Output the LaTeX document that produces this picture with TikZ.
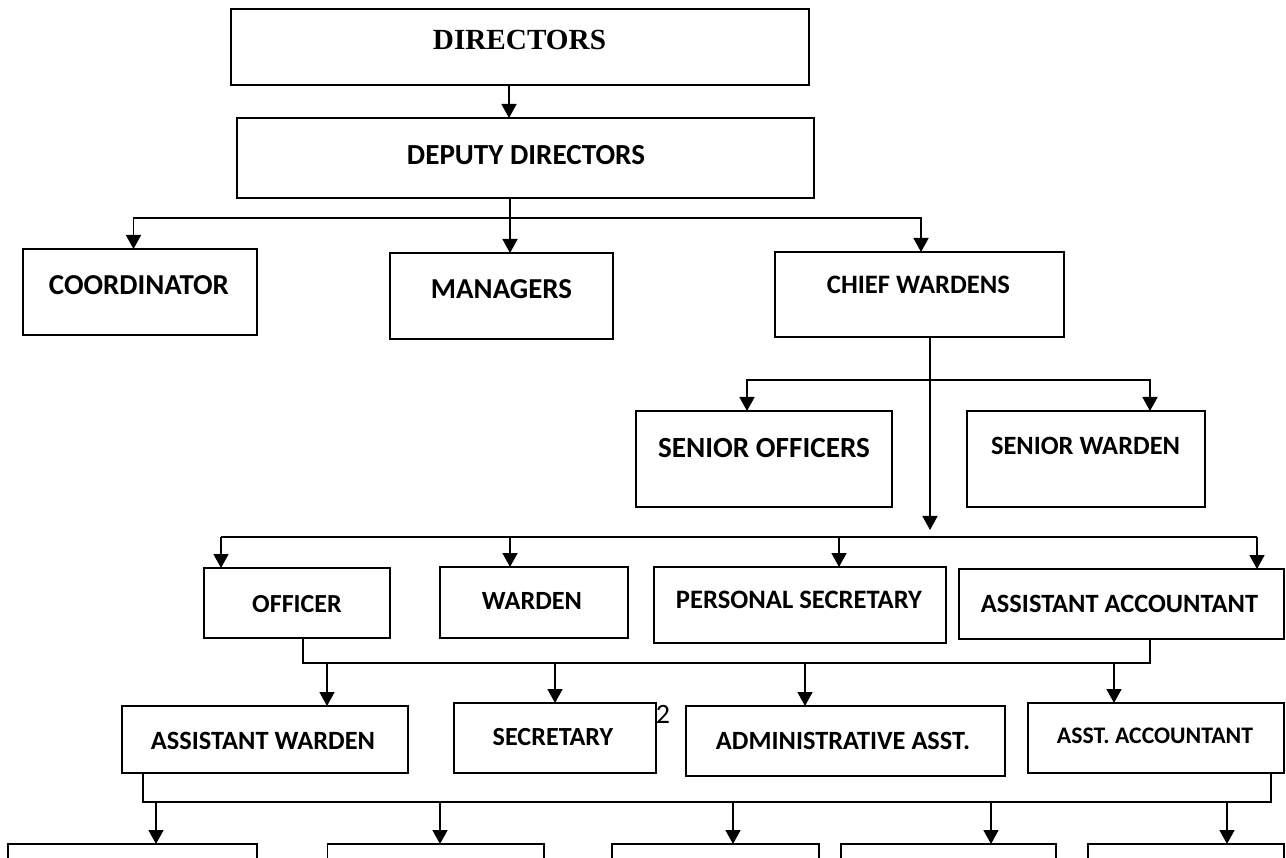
\documentclass[tikz,border=0pt]{standalone}
\usepackage{fontspec}
\setmainfont{Carlito}
\newfontfamily\serifbold{Liberation Serif}
\usepackage{graphicx}
\usetikzlibrary{arrows.meta}
\newcommand\fitw[2]{\resizebox{#1pt}{!}{#2}}
\tikzset{
  orgbox/.style={draw=black, line width=1.5pt, rectangle, inner sep=0pt, outer sep=0pt},
  lbl/.style={inner sep=0pt, outer sep=0pt, font=\bfseries},
  conn/.style={line width=1.6pt, draw=black},
  arr/.style={conn, -{Triangle[width=15pt,length=14pt]}},
}
\begin{document}
\begin{tikzpicture}[x=1pt,y=-1pt]
\path[use as bounding box] (0,0) rectangle (1286,858);
\clip (0,0) rectangle (1286,858);
\fill[white] (0,0) rectangle (1286,858);

% boxes
\node[orgbox, minimum width=578pt, minimum height=76pt] (dir) at (520,47) {};
\node[orgbox, minimum width=577pt, minimum height=80pt] (dep) at (525.5,158) {};
\node[orgbox, minimum width=234pt, minimum height=86pt] (coord) at (140,292) {};
\node[orgbox, minimum width=223pt, minimum height=86pt] (man) at (501.5,296) {};
\node[orgbox, minimum width=289pt, minimum height=85pt] (chief) at (919.5,294.5) {};
\node[orgbox, minimum width=256pt, minimum height=96pt] (so) at (764,459) {};
\node[orgbox, minimum width=238pt, minimum height=96pt] (sw) at (1086,459) {};
\node[orgbox, minimum width=186pt, minimum height=70pt] (off) at (297,603) {};
\node[orgbox, minimum width=188pt, minimum height=71pt] (war) at (534,602.5) {};
\node[orgbox, minimum width=292pt, minimum height=76pt] (ps) at (800,605) {};
\node[orgbox, minimum width=325pt, minimum height=70pt] (aa) at (1121.5,604) {};
\node[orgbox, minimum width=286pt, minimum height=67pt] (aw) at (265,739.5) {};
\node[orgbox, minimum width=202pt, minimum height=70pt] (sec) at (555,738) {};
\node[orgbox, minimum width=319pt, minimum height=70pt] (adm) at (845.5,741) {};
\node[orgbox, minimum width=256pt, minimum height=70pt] (aacc) at (1156,738) {};
\node[orgbox, minimum width=249pt, minimum height=60pt] (b1) at (132.5,874) {};
\node[orgbox, minimum width=216.5pt, minimum height=60pt] (b2) at (435.75,874) {};
\node[orgbox, minimum width=207pt, minimum height=60pt] (b3) at (715.5,874) {};
\node[orgbox, minimum width=215pt, minimum height=60pt] (b4) at (948.5,874) {};
\node[orgbox, minimum width=196pt, minimum height=60pt] (b5) at (1186,874) {};

% labels
\node[lbl] (t-dir) at (519.5,40) {\fitw{173}{\serifbold\bfseries DIRECTORS}};
\node[lbl] (t-dep) at (526,155) {\fitw{238}{DEPUTY DIRECTORS}};
\node[lbl] (t-coord) at (139,285.5) {\fitw{180}{COORDINATOR}};
\node[lbl] (t-man) at (501.5,289) {\fitw{141}{MANAGERS}};
\node[lbl] (t-chief) at (918.5,285) {\fitw{183}{CHIEF WARDENS}};
\node[lbl] (t-so) at (764,448) {\fitw{212}{SENIOR OFFICERS}};
\node[lbl] (t-sw) at (1085.5,446) {\fitw{189}{SENIOR WARDEN}};
\node[lbl] (t-off) at (297,604.5) {\fitw{89.5}{OFFICER}};
\node[lbl] (t-war) at (532,600.5) {\fitw{100}{WARDEN}};
\node[lbl] (t-ps) at (799,600) {\fitw{246}{PERSONAL SECRETARY}};
\node[lbl] (t-aa) at (1119.5,604) {\fitw{277}{ASSISTANT ACCOUNTANT}};
\node[lbl] (t-aw) at (263,740.5) {\fitw{224}{ASSISTANT WARDEN}};
\node[lbl] (t-sec) at (553,737.5) {\fitw{120.5}{SECRETARY}};
\node[lbl] (t-adm) at (843,740.5) {\fitw{254}{ADMINISTRATIVE ASST.}};
\node[lbl] (t-aacc) at (1155,735.5) {\fitw{196}{ASST. ACCOUNTANT}};
\node[inner sep=0pt, font=\fontsize{28}{30}\selectfont] (pg) at (663,714) {2};

% junction coordinates
\coordinate (j1) at (510,218);
\coordinate (j2) at (930,380);
\coordinate (j3) at (930,530);
\coordinate (j4) at (221,537);
\coordinate (j5) at (1257,537);
\coordinate (j6) at (303,663);
\coordinate (j7) at (1150,663);
\coordinate (j8) at (143,802);
\coordinate (j9) at (1271,802);

% connectors
\draw[arr] (509,0 |- dir.south) -- (509,0 |- dep.north);
\draw[arr] (510,0 |- dep.south) -- (510,0 |- man.north);
\draw[arr] (j1) -| (133.5,0 |- coord.north);
\draw[arr] (j1) -| (921,0 |- chief.north);

\draw[arr] (930,0 |- chief.south) -- (j3);
\draw[arr] (j2) -| (747,0 |- so.north);
\draw[arr] (j2) -| (1150,0 |- sw.north);

\draw[conn] (j4) -- (j5);
\draw[arr] (j4) -- (221,0 |- off.north);
\draw[arr] (510,537) -- (510,0 |- war.north);
\draw[arr] (839,537) -- (839,0 |- ps.north);
\draw[arr] (j5) -- (1257,0 |- aa.north);

\draw[conn] (303,0 |- off.south) -- (j6) -- (j7) -- (1150,0 |- aa.south);
\draw[arr] (327,663) -- (327,0 |- aw.north);
\draw[arr] (555,663) -- (555,0 |- sec.north);
\draw[arr] (805,663) -- (805,0 |- adm.north);
\draw[arr] (1114,663) -- (1114,0 |- aacc.north);

\draw[conn] (143,0 |- aw.south) -- (j8) -- (j9) -- (1271,0 |- aacc.south);
\draw[arr] (156,802) -- (156,0 |- b1.north);
\draw[arr] (440,802) -- (440,0 |- b2.north);
\draw[arr] (733,802) -- (733,0 |- b3.north);
\draw[arr] (991,802) -- (991,0 |- b4.north);
\draw[arr] (1227,802) -- (1227,0 |- b5.north);
\end{tikzpicture}
\end{document}
